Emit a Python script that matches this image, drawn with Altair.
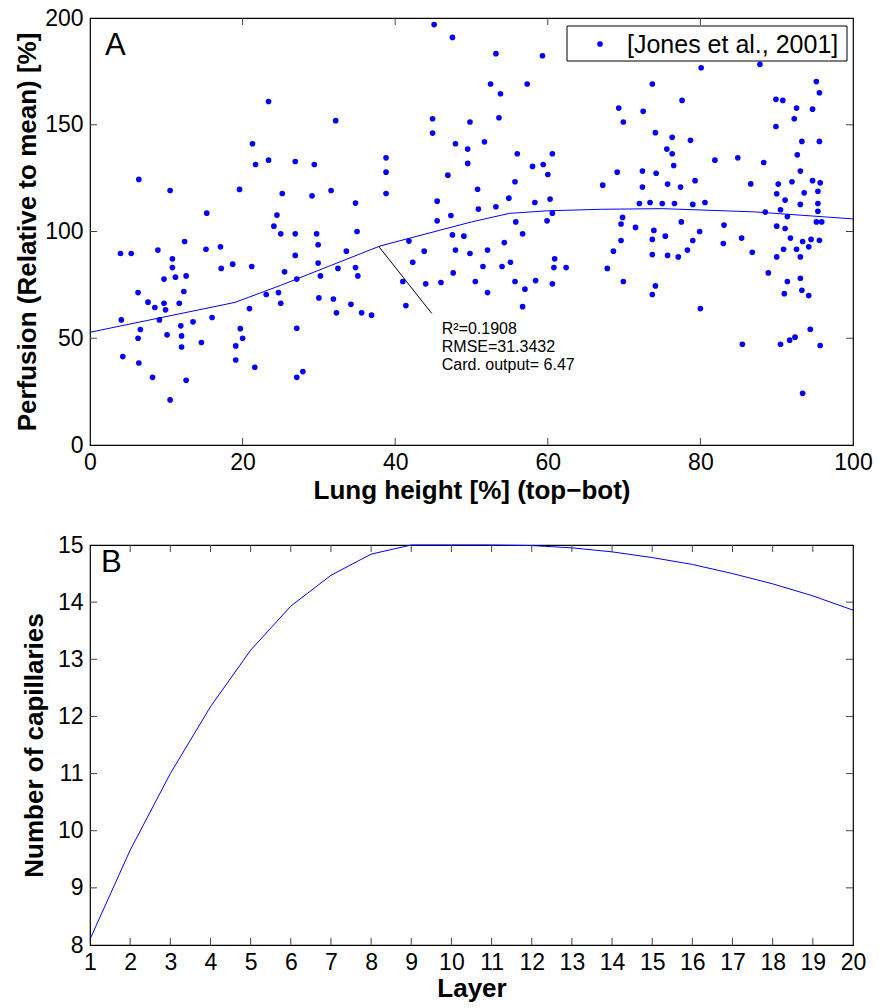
import altair as alt
import pandas as pd

# ---------------- Panel A data ----------------
height_pct = [
    23.4, 21.3, 21.7, 23.4, 6.4, 10.5, 19.6, 25.2, 15.3, 24.5, 24.1, 25.0, 12.4, 4.0, 5.4, 8.9, 15.2, 17.1, 10.8, 10.8,
    17.2, 18.7, 21.2, 9.7, 11.2, 12.6, 25.5, 6.3, 7.6, 8.5, 9.7, 9.9, 11.7, 12.3, 23.1, 24.7, 25.0, 20.9, 4.1, 9.1,
    13.5, 16.0, 11.9, 6.6, 6.3, 10.1, 12.0, 19.7, 20.0, 14.6, 12.0, 19.1, 4.3, 6.4, 19.1, 8.2, 12.6, 21.6, 10.5,
    45.1, 47.5, 32.2, 44.9, 44.9, 49.8, 47.9, 49.5, 49.5, 26.9, 29.4, 38.8, 38.8, 38.8, 29.1, 31.6, 34.8, 46.9, 50.8, 45.5,
    45.5, 47.3, 26.9, 29.7, 35.0, 29.9, 26.9, 33.6, 47.5, 49.0, 50.9, 41.8, 43.8, 47.9, 49.8, 29.9, 42.3, 30.2, 32.5, 34.8,
    35.1, 27.1, 41.0, 44.0, 46.0, 47.6, 50.5, 30.0, 31.9, 32.3, 34.2, 35.6, 36.9, 41.4, 27.1, 27.1, 27.9,
    53.2, 59.3, 52.5, 57.3, 53.8, 53.6, 51.7, 56.0, 60.6, 58.0, 59.4, 60.0, 55.7, 54.9, 60.3, 58.3, 53.2, 60.6, 55.8, 59.9,
    56.7, 54.3, 52.1, 55.1, 60.9, 51.5, 54.0, 60.8, 62.4, 55.7, 58.4, 60.6, 52.1, 57.0, 56.7, 67.2, 69.1, 69.3, 69.9, 72.5,
    73.7, 74.1, 75.6, 72.4, 74.2, 72.4, 75.7, 72.0, 73.4, 75.0, 69.8, 69.6, 71.5, 73.9, 75.4, 69.6, 73.7, 68.6, 73.7, 75.7,
    67.8, 69.9, 74.1, 73.7,
    80.1, 87.8, 95.2, 95.6, 77.6, 89.9, 90.8, 92.6, 94.7, 92.3, 89.9, 76.3, 78.7, 93.3, 95.6, 76.3, 76.5, 81.9, 84.9, 88.3,
    92.7, 93.1, 77.4, 79.3, 86.6, 90.2, 92.0, 94.7, 95.7, 90.0, 91.1, 93.6, 95.4, 76.6, 79.0, 80.6, 93.1, 95.4, 88.5, 90.5,
    91.4, 95.4, 77.5, 95.2, 95.9, 83.1, 90.0, 91.1, 79.9, 79.0, 83.0, 85.4, 91.8, 93.4, 94.5, 95.6, 77.1, 78.3, 86.8, 90.0,
    90.9, 92.6, 93.1, 94.2, 88.9, 91.4, 93.1, 91.0, 93.3, 94.2, 80.0, 94.4, 85.5, 90.5, 91.7, 92.4, 95.7, 93.4,
]
perfusion = [
    160.9, 141.1, 131.4, 133.4, 124.4, 119.2, 119.7, 117.8, 108.6, 107.7, 102.5, 98.9, 95.3, 89.7, 89.7, 91.3, 91.7, 92.8, 87.2, 83.1,
    82.7, 84.7, 83.6, 77.7, 78.6, 79.2, 81.1, 71.4, 66.9, 64.4, 66.4, 63.3, 66.4, 71.9, 70.5, 71.4, 66.4, 63.9, 58.6, 58.6,
    57.7, 59.7, 55.8, 54.1, 50.0, 51.6, 51.1, 54.5, 50.0, 48.0, 45.9, 46.4, 41.4, 38.4, 39.8, 31.7, 30.3, 36.4, 21.1,
    196.9, 190.9, 151.9, 152.8, 146.1, 151.3, 141.1, 138.6, 131.9, 132.8, 131.4, 134.5, 127.8, 117.8, 116.7, 119.2, 113.3, 126.4, 119.8, 114.2,
    105.0, 107.5, 98.9, 98.9, 100.0, 93.8, 88.8, 90.8, 98.4, 97.8, 110.5, 95.5, 90.8, 91.3, 89.7, 85.2, 85.6, 79.2, 82.7, 83.1,
    79.2, 77.7, 76.6, 75.5, 76.1, 80.6, 76.6, 68.9, 68.4, 61.9, 65.9, 61.9, 60.8, 65.3, 54.7, 31.7, 34.4,
    183.3, 182.3, 169.1, 169.1, 164.5, 153.3, 142.0, 136.4, 136.4, 130.5, 131.4, 126.7, 123.3, 115.6, 115.2, 113.6, 111.6, 108.6, 104.5, 105.0,
    98.9, 94.8, 91.3, 85.6, 87.2, 83.6, 83.6, 83.1, 83.1, 76.6, 77.0, 75.5, 71.4, 73.0, 64.8, 121.7, 127.8, 157.8, 151.3, 156.3,
    169.1, 146.3, 138.6, 128.3, 127.3, 120.8, 122.2, 113.1, 113.6, 113.1, 106.6, 103.5, 101.9, 100.5, 97.8, 95.8, 96.3, 90.8, 89.2, 88.8,
    82.7, 76.6, 74.5, 70.5,
    176.7, 178.3, 170.2, 165.0, 161.4, 161.9, 161.4, 157.8, 157.3, 152.8, 149.2, 144.1, 142.7, 142.2, 142.2, 136.4, 130.9, 133.4, 134.5, 132.3,
    135.9, 128.3, 120.8, 123.8, 122.3, 122.2, 123.3, 123.8, 122.8, 117.7, 114.7, 118.1, 118.8, 113.1, 112.7, 113.6, 112.7, 113.1, 109.1, 110.2,
    107.0, 109.5, 104.5, 104.5, 104.5, 103.0, 102.5, 101.4, 100.0, 95.8, 94.4, 96.9, 96.9, 95.3, 96.3, 95.9, 88.1, 91.3, 90.3, 88.1,
    91.7, 91.7, 88.1, 92.8, 80.6, 76.6, 78.1, 70.9, 72.5, 70.0, 63.9, 54.2, 47.2, 47.2, 49.1, 50.5, 46.6, 24.2,
]
fit_x = [0, 19, 25, 38, 50, 55, 60, 67, 75, 87, 100]
fit_y = [52.8, 66.8, 74.8, 93.2, 104.5, 108.5, 109.7, 110.4, 110.7, 109.2, 105.9]

annot_line = {"x": 37.8, "y": 93.2, "x2": 44.8, "y2": 61.6}
annot_text = ["R\u00b2=0.1908", "RMSE=31.3432", "Card. output= 6.47"]
annot_text_x = [46.1, 46.1, 46.1]
annot_text_y = [52.0, 43.5, 34.9]
legend_label = "[Jones et al., 2001]"

x_ticks_A = [0, 20, 40, 60, 80, 100]
y_ticks_A = [0, 50, 100, 150, 200]

# ---------------- Panel B data ----------------
layers = list(range(1, 21))
capillaries = [8.10, 9.66, 11.0, 12.17, 13.16, 13.93, 14.47, 14.84, 15.0, 15.0,
               15.0, 14.99, 14.95, 14.88, 14.78, 14.66, 14.50, 14.32, 14.11, 13.86]
x_ticks_B = list(range(1, 21))
y_ticks_B = [8, 9, 10, 11, 12, 13, 14, 15]

# ---------------- styling ----------------
W = 763
HA = 427
HB = 400
TL = 7  # tick length
FONT = "Liberation Sans"
BLUE = "#0000ff"
TICKC = "#444444"
TICK_FS = 23
TITLE_FS = 26


def axis(values, title, lpad, tpad):
    return alt.Axis(values=values, title=title, format="d", ticks=False, domain=False, grid=False,
                    labelFont=FONT, labelFontSize=TICK_FS, labelColor="black", labelPadding=lpad,
                    labelFlush=False, labelOverlap=False,
                    titleFont=FONT, titleFontSize=TITLE_FS, titleFontWeight="bold", titleColor="black",
                    titlePadding=tpad)


def inner_ticks(xfield, yfield, xvals, yvals, w, h):
    dx = pd.DataFrame({xfield: xvals})
    dy = pd.DataFrame({yfield: yvals})
    base_x = alt.X(f"{xfield}:Q")
    base_y = alt.Y(f"{yfield}:Q")
    bottom = alt.Chart(dx).mark_rule(color=TICKC, strokeWidth=1).encode(
        x=base_x, y=alt.value(h), y2=alt.value(h - TL))
    top = alt.Chart(dx).mark_rule(color=TICKC, strokeWidth=1).encode(
        x=base_x, y=alt.value(0), y2=alt.value(TL))
    left = alt.Chart(dy).mark_rule(color=TICKC, strokeWidth=1).encode(
        y=base_y, x=alt.value(0), x2=alt.value(TL))
    right = alt.Chart(dy).mark_rule(color=TICKC, strokeWidth=1).encode(
        y=base_y, x=alt.value(w), x2=alt.value(w - TL))
    return [bottom, top, left, right]


# ---------------- Panel A ----------------
df_pts = pd.DataFrame({"h": height_pct, "p": perfusion})
df_fit = pd.DataFrame({"h": fit_x, "p": fit_y})

xA = alt.X("h:Q", scale=alt.Scale(domain=[0, 100], nice=False, zero=False),
           axis=axis(x_ticks_A, "Lung height [%] (top\u2212bot)", 6, 3))
yA = alt.Y("p:Q", scale=alt.Scale(domain=[0, 200], nice=False, zero=False),
           axis=axis(y_ticks_A, "Perfusion (Relative to mean) [%]", 7, 4))

pts = alt.Chart(df_pts).mark_circle(size=32, color=BLUE, opacity=1).encode(x=xA, y=yA)
fit = alt.Chart(df_fit).mark_line(color=BLUE, strokeWidth=1).encode(x="h:Q", y="p:Q")

df_al = pd.DataFrame({"h": [annot_line["x"]], "p": [annot_line["y"]],
                      "h2": [annot_line["x2"]], "p2": [annot_line["y2"]]})
aline = alt.Chart(df_al).mark_rule(color="black", strokeWidth=1).encode(
    x="h:Q", y="p:Q", x2="h2:Q", y2="p2:Q")
df_at = pd.DataFrame({"h": annot_text_x, "p": annot_text_y, "t": annot_text})
atext = alt.Chart(df_at).mark_text(align="left", baseline="alphabetic", font=FONT,
                                   fontSize=16, color="black").encode(
    x="h:Q", y="p:Q", text="t:N")

one = pd.DataFrame({"k": [0]})
labA = alt.Chart(one).mark_text(align="left", baseline="alphabetic", font=FONT,
                                fontSize=31, color="black").encode(
    x=alt.value(15), y=alt.value(37), text=alt.value("A"))
leg_box = alt.Chart(one).mark_rect(fill="white", stroke="black", strokeWidth=1).encode(
    x=alt.value(477), x2=alt.value(757), y=alt.value(8), y2=alt.value(43))
leg_dot = alt.Chart(one).mark_circle(size=32, color=BLUE, opacity=1).encode(
    x=alt.value(510), y=alt.value(26))
leg_txt = alt.Chart(one).mark_text(align="left", baseline="middle", font=FONT,
                                   fontSize=25, color="black").encode(
    x=alt.value(537), y=alt.value(27), text=alt.value(legend_label))

panelA = alt.layer(
    pts, fit, aline, atext, labA,
    *inner_ticks("h", "p", x_ticks_A[1:-1], y_ticks_A[1:-1], W, HA),
    leg_box, leg_dot, leg_txt,
).properties(width=W, height=HA)

# ---------------- Panel B ----------------
df_b = pd.DataFrame({"layer": layers, "n": capillaries})
xB = alt.X("layer:Q", scale=alt.Scale(domain=[1, 20], nice=False, zero=False),
           axis=axis(x_ticks_B, "Layer", 6, 1))
yB = alt.Y("n:Q", scale=alt.Scale(domain=[8, 15], nice=False, zero=False),
           axis=axis(y_ticks_B, "Number of capillaries", 7, 10))
lineB = alt.Chart(df_b).mark_line(color=BLUE, strokeWidth=1).encode(x=xB, y=yB)
labB = alt.Chart(one).mark_text(align="left", baseline="alphabetic", font=FONT,
                                fontSize=31, color="black").encode(
    x=alt.value(11), y=alt.value(27), text=alt.value("B"))

panelB = alt.layer(
    lineB, labB,
    *inner_ticks("layer", "n", x_ticks_B[1:-1], y_ticks_B[1:-1], W, HB),
).properties(width=W, height=HB)

chart = alt.vconcat(panelA, panelB, spacing=29).properties(
    padding={"left": 14, "top": 6, "right": 5, "bottom": 2},
    background="white",
).configure_view(stroke="black", strokeWidth=1.2)

chart.save("out.html", embed_options={"renderer": "svg", "actions": False})
